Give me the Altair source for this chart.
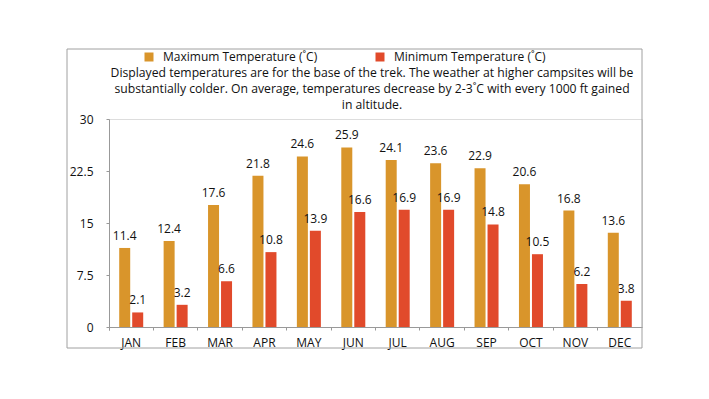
import altair as alt
import pandas as pd

months = ["JAN", "FEB", "MAR", "APR", "MAY", "JUN", "JUL", "AUG", "SEP", "OCT", "NOV", "DEC"]
max_temps = [11.4, 12.4, 17.6, 21.8, 24.6, 25.9, 24.1, 23.6, 22.9, 20.6, 16.8, 13.6]
min_temps = [2.1, 3.2, 6.6, 10.8, 13.9, 16.6, 16.9, 16.9, 14.8, 10.5, 6.2, 3.8]
series = ["Maximum Temperature (˚C)", "Minimum Temperature (˚C)"]
colors = ["#D9952B", "#E14A2B"]
y_ticks = [0, 7.5, 15, 22.5, 30]
note = [
    "Displayed temperatures are for the base of the trek. The weather at higher campsites will be",
    "substantially colder. On average, temperatures decrease by 2-3˚C with every 1000 ft gained",
    "in altitude.",
]

rows = []
for m, a, b in zip(months, max_temps, min_temps):
    rows.append({"month": m, "series": series[0], "temp": a, "label": f"{a:.1f}"})
    rows.append({"month": m, "series": series[1], "temp": b, "label": f"{b:.1f}"})
df = pd.DataFrame(rows)

FONT = "Open Sans"
W, H = 533, 208

x = alt.X("month:N", sort=months, title=None,
          scale=alt.Scale(paddingInner=0, paddingOuter=0),
          axis=alt.Axis(labelAngle=0, labelFont=FONT, labelFontSize=12, labelColor="#111",
                        labelPadding=7, tickSize=3, tickColor="#999", domainColor="#999",
                        bandPosition=0, tickExtra=True))
xo = alt.XOffset("series:N", sort=series,
                 scale=alt.Scale(paddingInner=0.1538, paddingOuter=0.785))
y = alt.Y("temp:Q", title=None,
          scale=alt.Scale(domain=[0, 30], nice=False, zero=True),
          axis=alt.Axis(values=y_ticks, format=".1~f", grid=False, labelFont=FONT,
                        labelFontSize=12, labelColor="#111", labelPadding=13, tickSize=3,
                        tickColor="#999", domainColor="#999"))
color = alt.Color("series:N", sort=series,
                  scale=alt.Scale(domain=series, range=colors),
                  legend=alt.Legend(title=None, orient="none", direction="horizontal",
                                    legendX=34, legendY=-68, symbolType="square",
                                    symbolSize=81, symbolStrokeWidth=0, labelFont=FONT,
                                    labelFontSize=12, labelColor="#111", labelOffset=8,
                                    columnPadding=56, padding=0, labelLimit=300))

base = alt.Chart(df)
bars = base.mark_bar().encode(x=x, xOffset=xo, y=y, color=color)
labels = base.mark_text(baseline="bottom", dy=-5, font=FONT, fontSize=12, color="#111").encode(
    x=alt.X("month:N", sort=months), xOffset=alt.XOffset("series:N", sort=series),
    y="temp:Q", text="label:N")

one = pd.DataFrame({"a": [0]})
frame = alt.Chart(one).mark_rect(
    filled=False, stroke="#a0a0a0", strokeWidth=1, clip=False).encode(
    x=alt.value(-42), x2=alt.value(533), y=alt.value(-70), y2=alt.value(229))

note_layers = []
for i, line in enumerate(note):
    note_layers.append(
        alt.Chart(one).mark_text(text=line, font=FONT, fontSize=12.2, color="#111",
                                 align="center", baseline="middle").encode(
            x=alt.value(263), y=alt.value(-46 + 16 * i)))

chart = alt.layer(frame, bars, labels, *note_layers).properties(
    width=W, height=H,
    autosize=alt.AutoSizeParams(type="none"),
    padding={"left": 101, "top": 111, "right": 50, "bottom": 50},
).configure_view(strokeWidth=0).configure(background="white")

chart.save("out.html", embed_options={"renderer": "svg", "actions": False})
